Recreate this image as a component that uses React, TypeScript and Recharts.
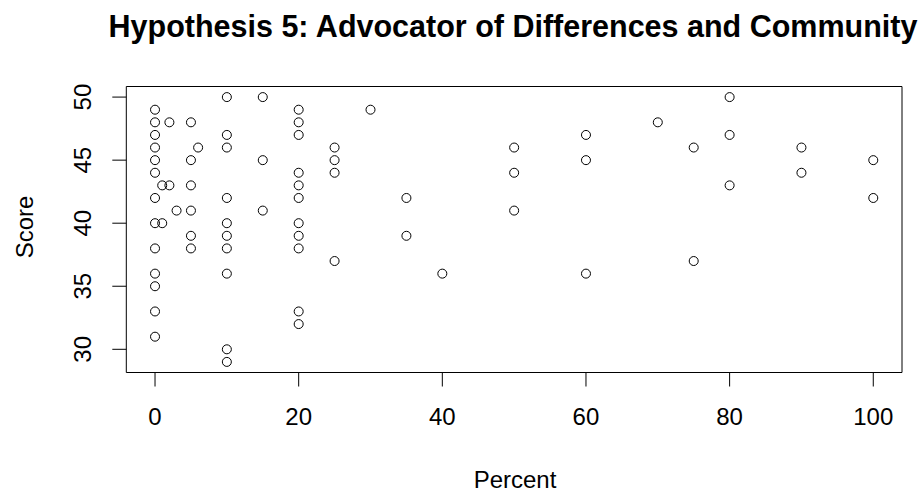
import React from 'react'
import { ScatterChart, Scatter, XAxis, YAxis, ReferenceArea } from 'recharts'

// percent groups and the scores plotted at each of them
const percents = [0, 1, 2, 3, 5, 6, 10, 15, 20, 25, 30, 35, 40, 50, 60, 70, 75, 80, 90, 100]
const scores = [
  [49, 48, 47, 46, 45, 44, 42, 40, 38, 36, 35, 33, 31],
  [43, 40],
  [48, 43],
  [41],
  [48, 45, 43, 41, 39, 38],
  [46],
  [50, 47, 46, 42, 40, 39, 38, 36, 30, 29],
  [50, 45, 41],
  [49, 48, 47, 44, 43, 42, 40, 39, 38, 33, 32],
  [46, 45, 44, 37],
  [49],
  [42, 39],
  [36],
  [46, 44, 41],
  [47, 45, 36],
  [48],
  [46, 37],
  [50, 47, 43],
  [46, 44],
  [45, 42]
]
const xTicks = [0, 20, 40, 60, 80, 100]
const yTicks = [30, 35, 40, 45, 50]

const points = percents.flatMap((p, i) => scores[i].map((s) => ({ percent: p, score: s })))

const font = '"Liberation Sans", Arial, sans-serif'

const YTick = (props: any) => {
  const { x, y, payload } = props
  return (
    <text
      x={x}
      y={y}
      transform={`rotate(-90 ${x} ${y})`}
      textAnchor="middle"
      fontSize={24}
      fontFamily={font}
      fill="#000"
    >
      {payload.value}
    </text>
  )
}

const OpenCircle = (props: any) => (
  <circle cx={props.cx} cy={props.cy} r={4.5} fill="none" stroke="#000" strokeWidth={1} />
)

export default function App() {
  return (
    <div style={{ position: 'absolute', left: 0, top: 0, width: 923, height: 492, background: '#fff' }}>
      <ScatterChart
        width={923}
        height={492}
        margin={{ top: 86.5, right: 21, bottom: 0, left: 0 }}
      >
        <XAxis
          type="number"
          dataKey="percent"
          domain={[-4, 104]}
          ticks={xTicks}
          axisLine={false}
          tickLine={{ stroke: '#000' }}
          tickSize={14}
          tickMargin={21}
          height={119.5}
          tick={{ fontSize: 24, fontFamily: font, fill: '#000' }}
          allowDataOverflow
        />
        <YAxis
          type="number"
          dataKey="score"
          domain={[28.16, 50.84]}
          ticks={yTicks}
          axisLine={false}
          tickLine={{ stroke: '#000' }}
          tickSize={14}
          tickMargin={21}
          width={126.3}
          tick={<YTick />}
          allowDataOverflow
        />
        <ReferenceArea x1={-4} x2={104} y1={28.16} y2={50.84} fill="none" stroke="#000" strokeWidth={1} />
        <Scatter data={points} shape={<OpenCircle />} isAnimationActive={false} />
      </ScatterChart>
      <svg
        width={923}
        height={492}
        style={{ position: 'absolute', left: 0, top: 0, pointerEvents: 'none' }}
      >
        <text x={513} y={36.7} textAnchor="middle" fontSize={30.5} fontWeight="bold" fontFamily={font} fill="#000">
          Hypothesis 5: Advocator of Differences and Community
        </text>
        <text x={515} y={488.3} textAnchor="middle" fontSize={24} fontFamily={font} fill="#000">
          Percent
        </text>
        <text x={33.3} y={227} transform="rotate(-90 33.3 227)" textAnchor="middle" fontSize={24} fontFamily={font} fill="#000">
          Score
        </text>
      </svg>
    </div>
  )
}
